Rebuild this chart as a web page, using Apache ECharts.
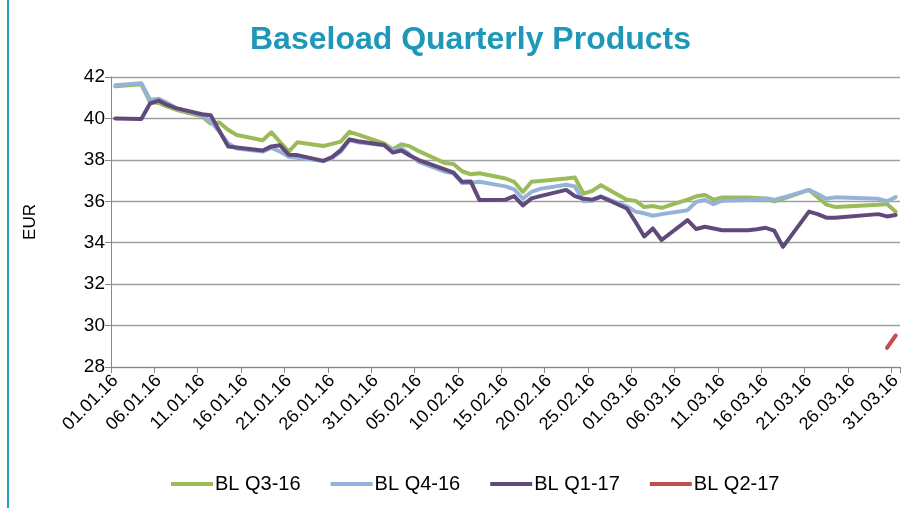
<!DOCTYPE html>
<html>
<head>
<meta charset="utf-8">
<script src="https://cdn.jsdelivr.net/npm/echarts@6/dist/echarts.min.js"></script>
<style>
  html, body { margin: 0; padding: 0; background: #fff; }
  #chart { width: 917px; height: 508px; }
</style>
</head>
<body>
<div id="chart"></div>
<script>
// day offsets from 01.01.16 that carry a quote (trading days)
var tradeDays = [0, 3, 4, 5, 6, 7, 10, 11, 12, 13, 14, 17, 18, 19, 20, 21, 24, 25, 26, 27, 28,
  31, 32, 33, 34, 35, 38, 39, 40, 41, 42, 45, 46, 47, 48, 49, 52, 53, 54, 55, 56, 59,
  60, 61, 62, 63, 66, 67, 68, 69, 70, 73, 74, 75, 76, 77, 80, 81, 82, 83, 88, 89, 90];

var blQ316 = [41.55, 41.65, 40.8, 40.75, 40.57, 40.42, 40.1, 39.75, 39.8, 39.45, 39.2, 38.95, 39.33, 38.86, 38.4, 38.85, 38.67, 38.77, 38.88, 39.35, 39.22,
  38.8, 38.5, 38.75, 38.65, 38.42, 37.85, 37.8, 37.45, 37.3, 37.35, 37.1, 36.94, 36.45, 36.94, 36.98, 37.1, 37.15, 36.37, 36.5, 36.78, 36.08,
  36.02, 35.72, 35.77, 35.68, 36.08, 36.24, 36.3, 36.08, 36.18, 36.18, 36.16, 36.12, 36.0, 36.12, 36.55, 36.2, 35.84, 35.73, 35.83, 35.87, 35.5];

var blQ416 = [41.6, 41.7, 40.9, 40.95, 40.75, 40.5, 40.15, 39.84, 39.36, 38.8, 38.55, 38.4, 38.58, 38.4, 38.15, 38.1, 37.95, 38.08, 38.4, 38.95, 38.85,
  38.7, 38.45, 38.55, 38.25, 37.9, 37.43, 37.35, 36.88, 36.9, 36.94, 36.72, 36.57, 36.13, 36.45, 36.6, 36.8, 36.72, 36.0, 36.02, 36.24, 35.76,
  35.5, 35.42, 35.3, 35.38, 35.57, 35.98, 36.06, 35.86, 36.03, 36.06, 36.1, 36.15, 36.07, 36.18, 36.55, 36.35, 36.12, 36.19, 36.12, 36.0, 36.2];

var blQ117 = [40.0, 39.97, 40.72, 40.86, 40.65, 40.5, 40.2, 40.15, 39.4, 38.65, 38.6, 38.45, 38.65, 38.7, 38.25, 38.23, 37.95, 38.14, 38.47, 38.99, 38.9,
  38.72, 38.35, 38.45, 38.2, 37.99, 37.54, 37.38, 36.94, 36.95, 36.06, 36.08, 36.25, 35.8, 36.14, 36.25, 36.55, 36.25, 36.12, 36.08, 36.22, 35.65,
  35.0, 34.3, 34.69, 34.13, 35.09, 34.66, 34.77, 34.69, 34.6, 34.6, 34.65, 34.72, 34.58, 33.8, 35.5, 35.38, 35.21, 35.2, 35.38, 35.27, 35.34];

var q217Days = [89, 90];
var blQ217 = [28.92, 29.52];

var seriesNames = ['BL Q3-16', 'BL Q4-16', 'BL Q1-17', 'BL Q2-17'];
var seriesColors = ['#9BBB59', '#95B3D7', '#604A7B', '#C0504D'];

// 01.01.16 .. 31.03.16, one category per calendar day
var categories = [];
for (var i = 0; i < 91; i++) {
  var dt = new Date(2016, 0, 1 + i);
  var dd = ('0' + dt.getDate()).slice(-2);
  var mm = ('0' + (dt.getMonth() + 1)).slice(-2);
  categories.push(dd + '.' + mm + '.16');
}

function pairs(days, vals) {
  var out = [];
  for (var i = 0; i < days.length; i++) out.push([days[i], vals[i]]);
  return out;
}

var dataSets = [
  pairs(tradeDays, blQ316),
  pairs(tradeDays, blQ416),
  pairs(tradeDays, blQ117),
  pairs(q217Days, blQ217)
];

var series = [];
for (var s = 0; s < seriesNames.length; s++) {
  series.push({
    name: seriesNames[s],
    type: 'line',
    data: dataSets[s],
    showSymbol: false,
    symbol: 'none',
    lineStyle: { width: 4, color: seriesColors[s], cap: 'round', join: 'round' },
    itemStyle: { color: seriesColors[s] },
    animation: false
  });
}

var chart = echarts.init(document.getElementById('chart'));
chart.setOption({
  animation: false,
  textStyle: { fontFamily: 'Liberation Sans, Arial, sans-serif' },
  title: {
    text: 'Baseload Quarterly Products',
    left: 245,
    top: 19,
    textStyle: { fontSize: 32, fontWeight: 'bold', color: '#1E97B8', fontFamily: 'Liberation Sans, Arial, sans-serif' }
  },
  graphic: [{
    type: 'line',
    shape: { x1: 8, y1: 0, x2: 8, y2: 508 },
    style: { stroke: '#2AA0C0', lineWidth: 2 }
  }],
  legend: {
    data: seriesNames,
    top: 469,
    left: 166,
    icon: 'rect',
    itemWidth: 42,
    itemHeight: 4,
    itemGap: 30,
    textStyle: { fontSize: 20, color: '#000', padding: [0, 0, 0, -3] }
  },
  grid: { left: 111, right: 17, top: 77, bottom: 141, containLabel: false },
  xAxis: {
    type: 'category',
    data: categories,
    boundaryGap: true,
    axisLine: { lineStyle: { color: '#888', width: 1 } },
    axisTick: { show: true, interval: 4, length: 6, lineStyle: { color: '#888' } },
    axisLabel: { interval: 4, rotate: 45, fontSize: 18, color: '#000', margin: 11 },
    splitLine: { show: false }
  },
  yAxis: {
    type: 'value',
    min: 28,
    max: 42,
    interval: 2,
    name: 'EUR',
    nameLocation: 'middle',
    nameGap: 72,
    nameTextStyle: { fontSize: 17, color: '#000' },
    axisLine: { show: true, lineStyle: { color: '#888', width: 1 } },
    axisTick: { show: true, length: 6, lineStyle: { color: '#888' } },
    axisLabel: { fontSize: 19, color: '#000', margin: 6 },
    splitLine: { lineStyle: { color: '#A0A0A0', width: 1.3 } }
  },
  series: series
});
</script>
</body>
</html>
